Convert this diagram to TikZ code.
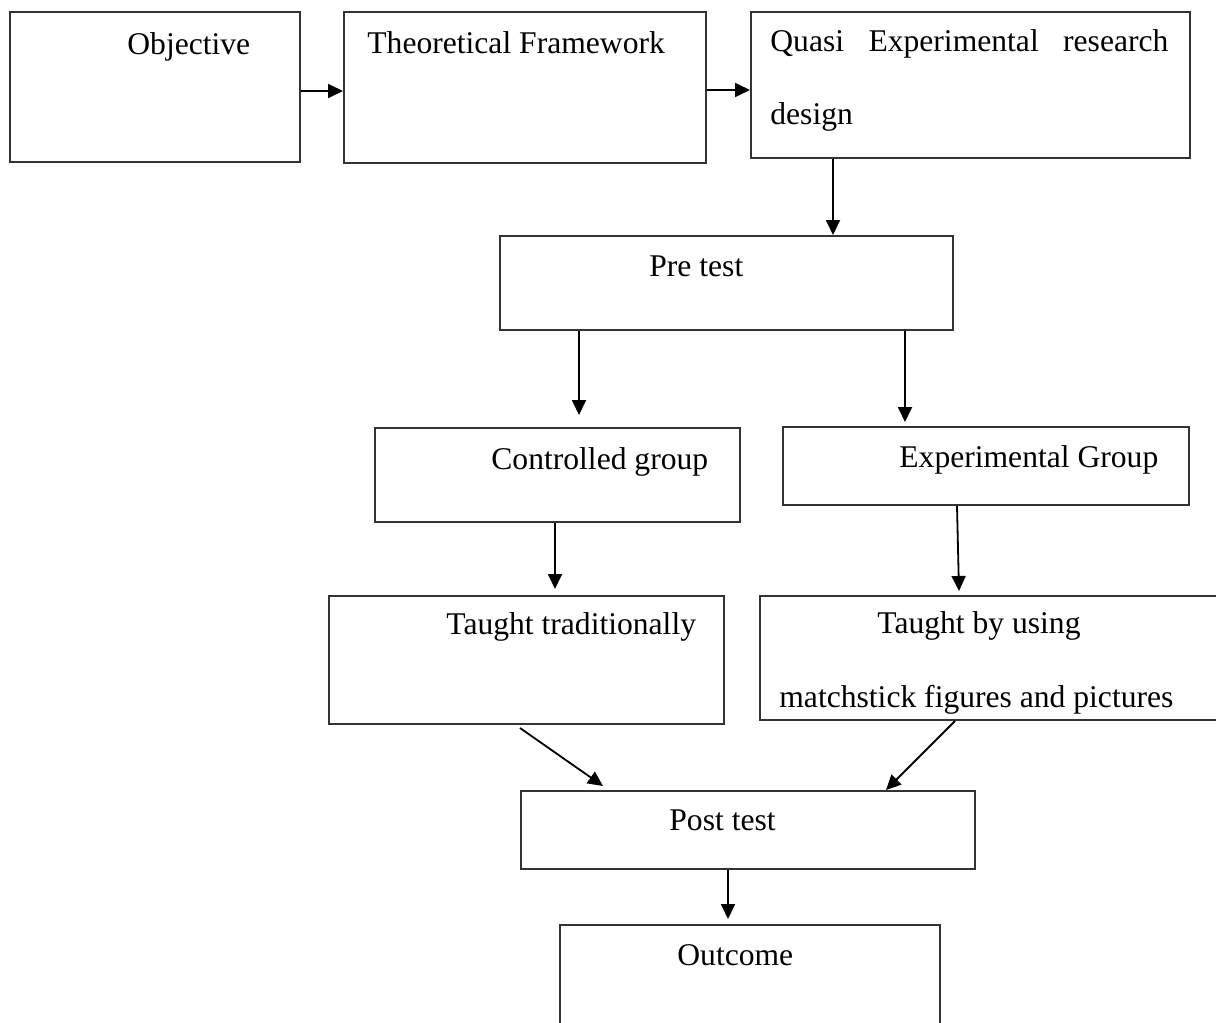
\documentclass[tikz,border=0pt]{standalone}
\usepackage{fontspec}
\setmainfont{Liberation Serif}
\usetikzlibrary{arrows.meta,fit}
\tikzset{
	flow box/.style={
		draw=black!80,
		line width=1pt,
		inner sep=0pt
	},
	box text/.style={
		anchor=base west,
		inner sep=0pt,
		font=\fontsize{15.8}{19}\selectfont
	},
	flow arrow/.style={
		line width=0.9pt,
		-{Triangle[length=7.5pt,width=7pt]}
	}
}

\begin{document}
\begin{tikzpicture}[x=0.5pt,y=-0.5pt]
	\useasboundingbox (0,0) rectangle (1216,1023);
	\clip (0,0) rectangle (1216,1023);

	% boxes, by two corners in pixels
	\node[flow box,fit={(10,12) (300,162)}] (obj) {};
	\node[flow box,fit={(344,12) (706,163)}] (theo) {};
	\node[flow box,fit={(751,12) (1190,158)}] (quasi) {};
	\node[flow box,fit={(500,236) (953,330)}] (pre) {};
	\node[flow box,fit={(375,428) (740,522)}] (ctrl) {};
	\node[flow box,fit={(783,427) (1189,505)}] (exp) {};
	\node[flow box,fit={(329,596) (724,724)}] (trad) {};
	\node[flow box,fit={(760,596) (1240,720)}] (using) {};
	\node[flow box,fit={(521,791) (975,869)}] (post) {};
	\node[flow box,fit={(560,925) (940,1060)}] (outc) {};

	% texts
	\node[box text] (objtxt) at (127,54) {Objective};
	\node[box text] (theotxt) at (367,53) {Theoretical Framework};
	\node[box text,text width=199pt,align=left] (quasitxt) at (770,51)
		{Quasi\hfill Experimental\hfill research};
	\node[box text] (designtxt) at (770,124) {design};
	\node[box text] (pretxt) at (649,276) {Pre test};
	\node[box text] (ctrltxt) at (491,469) {Controlled group};
	\node[box text] (exptxt) at (899,467) {Experimental Group};
	\node[box text] (tradtxt) at (446,634) {Taught traditionally};
	\node[box text] (usingtxt) at (877,633) {Taught by using};
	\node[box text] (matchtxt) at (779,707) {matchstick figures and pictures};
	\node[box text] (posttxt) at (669,830) {Post test};
	\node[box text] (outctxt) at (677,965) {Outcome};

	% arrows
	\coordinate (qx) at (833,0);
	\coordinate (cx) at (579,0);
	\coordinate (ex) at (905,0);
	\coordinate (tx) at (555,0);
	\coordinate (ux1) at (957,0);
	\coordinate (ux2) at (959,0);
	\coordinate (px) at (728,0);
	\coordinate (d1) at (520,0);
	\coordinate (d2) at (603,0);
	\coordinate (d3) at (955,0);
	\coordinate (d4) at (886,0);

	\draw[flow arrow] ([yshift=-2pt]obj.east) -- ([yshift=-2pt]obj.east -| theo.west);
	\draw[flow arrow] ([yshift=-1.25pt]theo.east) -- ([yshift=-1.25pt]theo.east -| quasi.west);
	\draw[flow arrow] (qx |- quasi.south) -- (qx |- pre.north);
	\draw[flow arrow] (cx |- pre.south) -- ([yshift=6pt]cx |- ctrl.north);
	\draw[flow arrow] (ex |- pre.south) -- ([yshift=2pt]ex |- exp.north);
	\draw[flow arrow] (tx |- ctrl.south) -- ([yshift=3pt]tx |- trad.north);
	\draw[flow arrow] (ux1 |- exp.south) -- ([yshift=2pt]ux2 |- using.north);
	\draw[flow arrow] ([yshift=-1.5pt]d1 |- trad.south) -- ([yshift=2pt]d2 |- post.north);
	\draw[flow arrow] (d3 |- using.south) -- (d4 |- post.north);
	\draw[flow arrow] (px |- post.south) -- ([yshift=2.5pt]px |- outc.north);
\end{tikzpicture}
\end{document}
